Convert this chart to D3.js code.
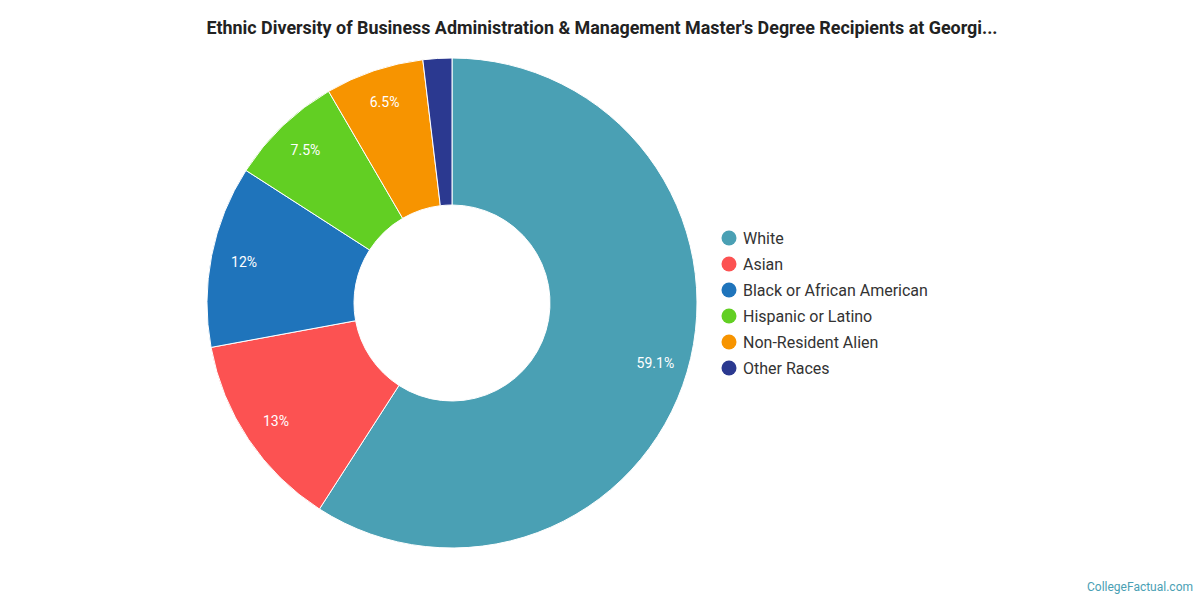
<!DOCTYPE html>
<html><head><meta charset="utf-8">
<script src="https://cdn.jsdelivr.net/npm/d3@7"></script>
<style>body{margin:0;background:#fff;font-family:Roboto,sans-serif}</style>
</head><body><svg id="c" width="1200" height="600"></svg>
<script>
const categories=["White","Asian","Black or African American","Hispanic or Latino","Non-Resident Alien","Other Races"];
const values=[59.1,13,12,7.5,6.5,1.9];
const labels=["59.1%","13%","12%","7.5%","6.5%",""];
const colors=["#4aa0b4","#fc5252","#1f74bb","#62cf23","#f79400","#2b3990"];
const svg=d3.select("#c");
svg.append("text").attr("x",602).attr("y",34).attr("text-anchor","middle").attr("font-size",17.9).attr("font-weight","bold").attr("fill","#222").text("Ethnic Diversity of Business Administration & Management Master's Degree Recipients at Georgi...");
const cx=452,cy=303,R=245,r=98;
const pie=d3.pie().sort(null).value(d=>d)(values);
const arc=d3.arc().innerRadius(r).outerRadius(R);
const g=svg.append("g").attr("transform",`translate(${cx},${cy})`);
g.selectAll("path").data(pie).join("path").attr("d",arc).attr("fill",(d,i)=>colors[i]).attr("stroke","#fff").attr("stroke-width",1);
const la=d3.arc().innerRadius(212).outerRadius(212);
g.selectAll("text").data(pie).join("text").attr("transform",d=>`translate(${la.centroid(d)})`).attr("text-anchor","middle").attr("dy","0.35em").attr("font-size",14).attr("fill","#fff").text((d,i)=>labels[i]);
const lg=svg.append("g");
categories.forEach((c,i)=>{
 lg.append("circle").attr("cx",729).attr("cy",238+i*26).attr("r",7.5).attr("fill",colors[i]);
 lg.append("text").attr("x",743).attr("y",238+i*26).attr("dy","0.35em").attr("font-size",16).attr("fill","#333").text(c);
});
svg.append("text").attr("x",1193).attr("y",591).attr("text-anchor","end").attr("font-size",12).attr("fill","#4aa0b4").text("CollegeFactual.com");
</script></body></html>
